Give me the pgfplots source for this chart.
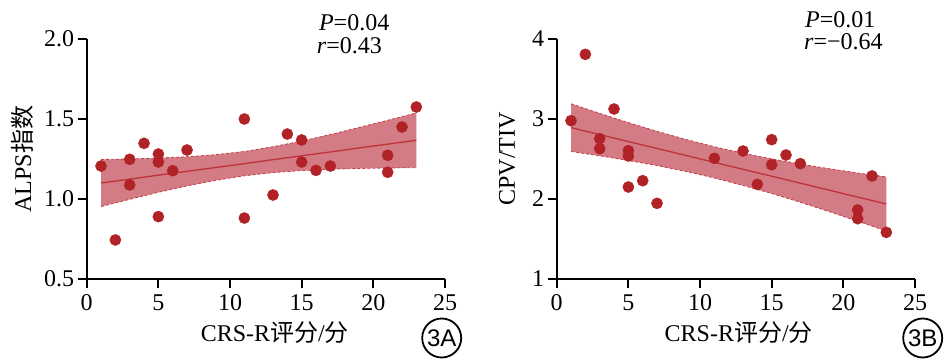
\documentclass[border=0pt]{standalone}
\usepackage{fontspec}
\setmainfont{Liberation Serif}
\newfontfamily\cjk{Noto Sans CJK SC}
\newfontfamily\sans{Liberation Sans}
\usepackage{pgfplots}
\usepackage{pgfplotstable}
\pgfplotsset{compat=1.18}
\usepgfplotslibrary{fillbetween}
\definecolor{band}{RGB}{212,124,133}
\definecolor{dot}{RGB}{176,34,38}
\definecolor{fitc}{RGB}{190,50,58}
\definecolor{dashc}{RGB}{196,62,72}

% Panel A data
\pgfplotstableread{
x y
1 1.206
2 0.744
3 1.248
3 1.088
4 1.348
5 1.281
5 1.231
5 0.890
6 1.177
7 1.306
11 1.500
11 0.881
13 1.025
14 1.406
15 1.369
15 1.231
16 1.179
17 1.206
21 1.273
21 1.167
22 1.450
23 1.575
}\dataA
\pgfplotstableread{
x fit up lo
1 1.100 1.247 0.953
3 1.124 1.250 0.998
5 1.149 1.256 1.042
7 1.173 1.264 1.082
9 1.197 1.277 1.117
11 1.221 1.297 1.145
13 1.246 1.327 1.165
15 1.270 1.362 1.178
17 1.294 1.403 1.186
19 1.319 1.447 1.191
21 1.343 1.492 1.194
23 1.367 1.538 1.196
}\bandA
% Panel B data
\pgfplotstableread{
x y
1 2.979
2 3.808
3 2.754
3 2.629
4 3.125
5 2.604
5 2.538
5 2.150
6 2.229
7 1.946
11 2.508
13 2.600
14 2.183
15 2.742
15 2.429
16 2.550
17 2.442
21 1.863
21 1.754
22 2.288
23 1.583
}\dataB
\pgfplotstableread{
x fit up lo
1 2.892 3.190 2.594
3 2.805 3.070 2.540
5 2.718 2.955 2.481
7 2.632 2.846 2.418
9 2.545 2.745 2.345
11 2.458 2.653 2.263
13 2.371 2.572 2.170
15 2.285 2.501 2.069
17 2.198 2.437 1.959
19 2.111 2.379 1.843
21 2.024 2.325 1.723
23 1.938 2.276 1.600
}\bandB

\pgfplotsset{panel/.style={
  scale only axis, width=358.3pt, height=240pt,
  axis x line*=bottom, axis y line*=left,
  axis line style={line width=2pt, black},
  every tick/.style={line width=2pt, black},
  major tick length=9pt, tick align=outside,
  xmin=0, xmax=25, xtick={0,5,10,15,20,25},
  minor tick num=0,
  tick label style={font=\fontsize{24}{28}\selectfont},
  xticklabel style={yshift=-3pt},
  label style={font=\fontsize{24}{28}\selectfont},
  /pgf/number format/assume math mode=true,
  clip=false,
}}

\begin{document}
\begin{tikzpicture}

% ---------- Panel A ----------
\begin{axis}[panel, at={(86.7pt,81pt)}, anchor=south west,
  ymin=0.5, ymax=2.0, ytick={0.5,1.0,1.5,2.0},
  yticklabel style={/pgf/number format/.cd, fixed, fixed zerofill, precision=1},
  xlabel={CRS-R{\cjk 评分}/{\cjk 分}},
  xlabel style={at={(axis description cs:0.525,-0.225)}, anchor=center},
  ylabel={ALPS{\cjk 指数}},
  ylabel style={at={(axis description cs:-0.1806,0.5)}, anchor=center},
]
\addplot[name path=upA, draw=none] table[x=x,y=up] {\bandA};
\addplot[name path=loA, draw=none] table[x=x,y=lo] {\bandA};
\addplot[band, draw=none] fill between[of=upA and loA];
\addplot[dashc, dash pattern=on 3pt off 2pt, line width=0.8pt] table[x=x,y=up] {\bandA};
\addplot[dashc, dash pattern=on 3pt off 2pt, line width=0.8pt] table[x=x,y=lo] {\bandA};
\addplot[fitc, line width=1.3pt] table[x=x,y=fit] {\bandA};
\addplot[only marks, mark=*, mark size=5.6pt, mark options={fill=dot, draw=dot}] table[x=x,y=y] {\dataA};
\node[anchor=base west, inner sep=0pt, font=\fontsize{24}{28}\selectfont] at ([yshift=9pt]rel axis cs:0.648,1) {\textit{P}=0.04};
\node[anchor=base west, inner sep=0pt, font=\fontsize{24}{28}\selectfont] at ([yshift=-14pt]rel axis cs:0.642,1) {\textit{r}=0.43};
\end{axis}

% ---------- Panel B ----------
\begin{axis}[panel, at={(556.7pt,81pt)}, anchor=south west,
  ymin=1, ymax=4, ytick={1,2,3,4},
  xlabel={CRS-R{\cjk 评分}/{\cjk 分}},
  xlabel style={at={(axis description cs:0.508,-0.225)}, anchor=center},
  ylabel={CPV/TIV},
  ylabel style={at={(axis description cs:-0.1387,0.5)}, anchor=center},
]
\addplot[name path=upB, draw=none] table[x=x,y=up] {\bandB};
\addplot[name path=loB, draw=none] table[x=x,y=lo] {\bandB};
\addplot[band, draw=none] fill between[of=upB and loB];
\addplot[dashc, dash pattern=on 3pt off 2pt, line width=0.8pt] table[x=x,y=up] {\bandB};
\addplot[dashc, dash pattern=on 3pt off 2pt, line width=0.8pt] table[x=x,y=lo] {\bandB};
\addplot[fitc, line width=1.3pt] table[x=x,y=fit] {\bandB};
\addplot[only marks, mark=*, mark size=5.6pt, mark options={fill=dot, draw=dot}] table[x=x,y=y] {\dataB};
\node[anchor=base west, inner sep=0pt, font=\fontsize{24}{28}\selectfont] at ([yshift=12pt]rel axis cs:0.693,1) {\textit{P}=0.01};
\node[anchor=base west, inner sep=0pt, font=\fontsize{24}{28}\selectfont] at ([yshift=-10pt]rel axis cs:0.690,1) {\textit{r}=−0.64};
\end{axis}

% panel tags
\node[circle, draw, line width=1.8pt, minimum size=39pt, inner sep=0pt, font=\sans\fontsize{24}{24}\selectfont] at (441.7pt,22pt) {3A};
\node[circle, draw, line width=1.8pt, minimum size=39pt, inner sep=0pt, font=\sans\fontsize{24}{24}\selectfont] at (922.7pt,22pt) {3B};

\pgfresetboundingbox
\path[use as bounding box] (0,0) rectangle (945pt,360pt);
\end{tikzpicture}
\end{document}
